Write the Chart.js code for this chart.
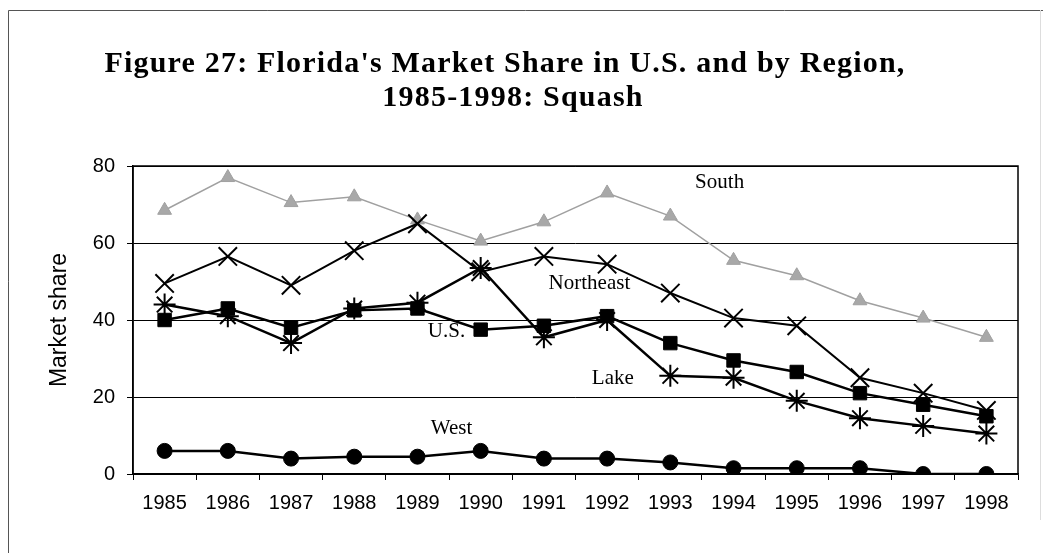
<!DOCTYPE html>
<html>
<head>
<meta charset="utf-8">
<script src="https://cdn.jsdelivr.net/npm/chart.js@4"></script>
<style>
  html, body { margin: 0; padding: 0; background: #fff; }
  #wrap { width: 1043px; height: 553px; position: relative; }
</style>
</head>
<body>
<div id="wrap"><canvas id="shareChart"></canvas></div>
<script>
const years = ['1985', '1986', '1987', '1988', '1989', '1990', '1991', '1992', '1993', '1994', '1995', '1996', '1997', '1998'];
const south = [68.5, 77, 70.5, 72, 66, 60.5, 65.5, 73, 67, 55.5, 51.5, 45, 40.5, 35.5];
const northeast = [49.5, 56.5, 49, 58, 65, 52.5, 56.5, 54.5, 47, 40.5, 38.5, 25, 21, 16.5];
const us = [40, 43, 38, 42.5, 43, 37.5, 38.5, 41, 34, 29.5, 26.5, 21, 18, 15];
const lake = [44, 41, 34, 43, 44.5, 53.5, 35.5, 40, 25.5, 25, 19, 14.5, 12.5, 10.5];
const west = [6, 6, 4, 4.5, 4.5, 6, 4, 4, 3, 1.5, 1.5, 1.5, 0, 0];
const yTicks = [0, 20, 40, 60, 80];

const titleLines = ["Figure 27: Florida's Market Share in U.S. and by Region,", '1985-1998: Squash'];

// text labels placed next to each line (category index, value)
const seriesLabels = [
    { text: 'South', idx: 8.78, val: 75.6 },
    { text: 'Northeast', idx: 6.72, val: 49.6 },
    { text: 'U.S.', idx: 4.46, val: 37.1 },
    { text: 'Lake', idx: 7.09, val: 24.7 },
    { text: 'West', idx: 4.54, val: 11.9 }
];

const decorPlugin = {
    id: 'decor',
    beforeDraw(chart) {
        const ctx = chart.ctx;
        ctx.save();
        // page frame
        ctx.strokeStyle = '#555';
        ctx.lineWidth = 1;
        ctx.beginPath();
        ctx.moveTo(8.5, 553);
        ctx.lineTo(8.5, 10.5);
        ctx.lineTo(1043, 10.5);
        ctx.stroke();
        ctx.strokeStyle = '#ddd';
        ctx.beginPath();
        ctx.moveTo(1040.5, 10);
        ctx.lineTo(1040.5, 520);
        ctx.stroke();
        // title
        ctx.fillStyle = '#000';
        ctx.font = 'bold 30px "Liberation Serif", "Times New Roman", serif';
        ctx.letterSpacing = '1.2px';
        ctx.textAlign = 'center';
        ctx.textBaseline = 'middle';
        ctx.fillText(titleLines[0], 505, 64);
        ctx.fillText(titleLines[1], 513, 98);
        ctx.restore();
    },
    afterDatasetsDraw(chart) {
        const ctx = chart.ctx;
        const a = chart.chartArea;
        const xs = chart.scales.x;
        const ys = chart.scales.y;
        ctx.save();
        ctx.strokeStyle = '#000';
        ctx.lineWidth = 1.5;
        ctx.strokeRect(a.left, a.top, a.right - a.left, a.bottom - a.top);
        ctx.fillStyle = '#000';
        ctx.font = '21px "Liberation Serif", "Times New Roman", serif';
        ctx.textAlign = 'center';
        ctx.textBaseline = 'middle';
        seriesLabels.forEach(l => {
            ctx.fillText(l.text, xs.getPixelForValue(l.idx), ys.getPixelForValue(l.val));
        });
        ctx.restore();
    }
};

const ctx = document.getElementById('shareChart').getContext('2d');
new Chart(ctx, {
    type: 'line',
    data: {
        labels: years,
        datasets: [
            {
                label: 'South',
                data: south,
                borderColor: '#a0a0a0',
                backgroundColor: '#a8a8a8',
                borderWidth: 1.5,
                pointStyle: 'triangle',
                pointRadius: 8,
                pointBorderColor: '#a0a0a0',
                pointBorderWidth: 1,
                order: 5
            },
            {
                label: 'Northeast',
                data: northeast,
                borderColor: '#000',
                backgroundColor: '#000',
                borderWidth: 2,
                pointStyle: 'crossRot',
                pointRadius: 13,
                pointBorderWidth: 2,
                order: 4
            },
            {
                label: 'U.S.',
                data: us,
                borderColor: '#000',
                backgroundColor: '#000',
                borderWidth: 2.5,
                pointStyle: 'rect',
                pointRadius: 9.5,
                pointBorderWidth: 1,
                order: 3
            },
            {
                label: 'Lake',
                data: lake,
                borderColor: '#000',
                backgroundColor: '#000',
                borderWidth: 2.5,
                pointStyle: 'star',
                pointRadius: 11,
                pointBorderWidth: 2,
                order: 2
            },
            {
                label: 'West',
                data: west,
                borderColor: '#000',
                backgroundColor: '#000',
                borderWidth: 2.5,
                pointStyle: 'circle',
                pointRadius: 7.5,
                pointBorderWidth: 1,
                order: 1
            }
        ]
    },
    options: {
        responsive: true,
        maintainAspectRatio: false,
        animation: false,
        layout: {
            padding: { left: 0, right: 25, top: 166, bottom: 0 }
        },
        plugins: {
            legend: { display: false },
            title: { display: false },
            tooltip: { enabled: false }
        },
        scales: {
            x: {
                offset: true,
                afterFit: scale => { scale.height = 79; },
                grid: {
                    offset: true,
                    drawOnChartArea: false,
                    color: '#000',
                    tickLength: 6
                },
                border: { color: '#000', width: 1.5 },
                ticks: {
                    color: '#000',
                    padding: 11,
                    maxRotation: 0,
                    font: { family: '"Liberation Sans", Arial, sans-serif', size: 20 }
                }
            },
            y: {
                min: 0,
                max: 80,
                afterFit: scale => { scale.width = 133; },
                afterBuildTicks: scale => { scale.ticks = yTicks.map(v => ({ value: v })); },
                grid: {
                    color: '#000',
                    lineWidth: 1,
                    tickLength: 6
                },
                border: { color: '#000', width: 1.5 },
                ticks: {
                    color: '#000',
                    padding: 12,
                    font: { family: '"Liberation Sans", Arial, sans-serif', size: 20 }
                }, 
                title: {
                    display: true,
                    text: 'Market share',
                    color: '#000',
                    padding: { top: 46, bottom: 0 },
                    font: { family: '"Liberation Sans", Arial, sans-serif', size: 23 }
                }
            }
        }
    },
    plugins: [decorPlugin]
});
</script>
</body>
</html>
